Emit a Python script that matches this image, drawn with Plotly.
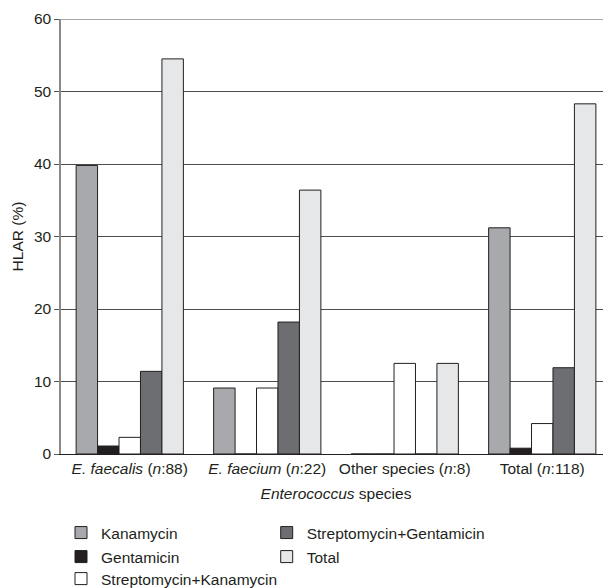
import plotly.graph_objects as go

categories = ["<i>E. faecalis</i> (<i>n</i>:88)", "<i>E. faecium</i> (<i>n</i>:22)",
              "Other species (<i>n</i>:8)", "Total (<i>n</i>:118)"]
kanamycin = [39.8, 9.1, 0, 31.2]
gentamicin = [1.1, 0, 0, 0.8]
strep_kan = [2.3, 9.1, 12.5, 4.2]
strep_gen = [11.4, 18.2, 0, 11.9]
total = [54.5, 36.4, 12.5, 48.3]

series = [
    ("Kanamycin", kanamycin, "#a7a9ac"),
    ("Gentamicin", gentamicin, "#231f20"),
    ("Streptomycin+Kanamycin", strep_kan, "#ffffff"),
    ("Streptomycin+Gentamicin", strep_gen, "#6d6e71"),
    ("Total", total, "#e6e7e8"),
]
legend_ids = ["legend", "legend2", "legend3", "legend4", "legend5"]
legend_pos = [(0.0, -0.1816), (0.0, -0.2368), (0.0, -0.2874),
              (0.374, -0.1816), (0.374, -0.2368)]

font = dict(family="Liberation Sans, Arial, sans-serif", size=15.5, color="#231f20")

fig = go.Figure()
for (name, vals, color), lg in zip(series, legend_ids):
    fig.add_trace(go.Bar(
        x=categories, y=vals, name=name,
        marker=dict(color=color, line=dict(color="#231f20", width=1)),
        legend=lg,
    ))

legends = {}
for lg, (lx, ly) in zip(legend_ids, legend_pos):
    legends[lg] = dict(x=lx, y=ly, xanchor="left", yanchor="middle",
                       orientation="v", font=font, bgcolor="rgba(0,0,0,0)",
                       borderwidth=0)

# page body adds an 8px offset, so the figure is sized/margined to compensate
fig.update_layout(
    width=603, height=580,
    margin=dict(l=53, r=0, t=11, b=134, autoexpand=False),
    plot_bgcolor="white", paper_bgcolor="white",
    barmode="group", bargap=0.22, bargroupgap=0,
    font=font,
    showlegend=True,
    xaxis=dict(
        showline=True, linecolor="#231f20", linewidth=1,
        ticks="", showgrid=False, automargin=False,
        title=dict(text="<i>Enterococcus</i> species", font=font, standoff=12),
        tickfont=font,
    ),
    yaxis=dict(
        range=[0, 60], tickvals=[0, 10, 20, 30, 40, 50, 60],
        showline=True, linecolor="#8a8a8a", linewidth=1.5,
        ticks="outside", ticklen=5, tickcolor="#555555",
        showgrid=True, gridcolor="#4d4d4d", gridwidth=1,
        zeroline=False, automargin=False,
        title=dict(text="HLAR (%)", font=font, standoff=6),
        tickfont=font,
    ),
    shapes=[dict(type="line", xref="paper", yref="y", x0=0, x1=1, y0=60, y1=60,
                 line=dict(color="#8a8a8a", width=1.5), layer="below")],
    **legends,
)

fig.write_html("out.html")
